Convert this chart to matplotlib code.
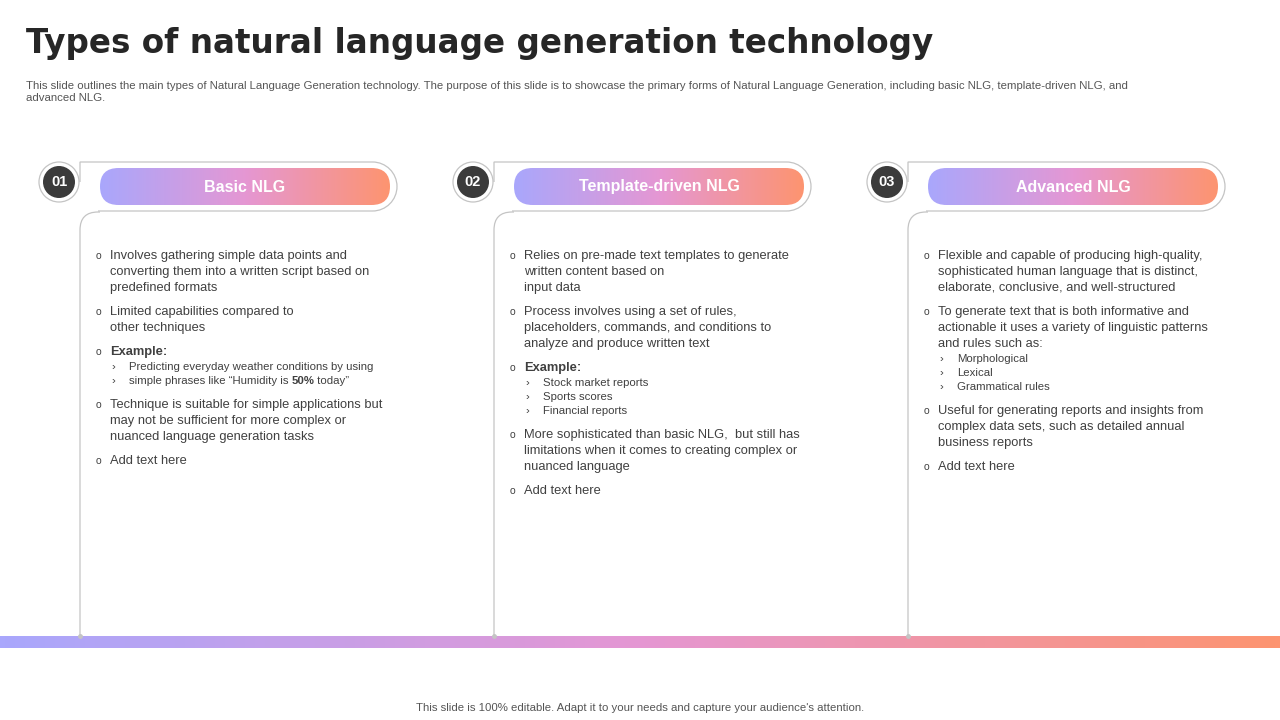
import matplotlib
matplotlib.use("Agg")
import matplotlib.pyplot as plt
import numpy as np
from matplotlib.patches import FancyBboxPatch, Circle, PathPatch
from matplotlib.path import Path
from matplotlib.colors import LinearSegmentedColormap

title = "Types of natural language generation technology"
subtitle = ("This slide outlines the main types of Natural Language Generation technology. The purpose of this slide is to showcase the primary forms of Natural Language Generation, including basic NLG, template-driven NLG, and\nadvanced NLG.")
footer = "This slide is 100% editable. Adapt it to your needs and capture your audience's attention."
numbers = ["01", "02", "03"]
headers = ["Basic NLG", "Template-driven NLG", "Advanced NLG"]
card1 = [("b", ["Involves gathering simple data points and", "converting them into a written script based on", "predefined formats"]),
         ("b", ["Limited capabilities compared to", "other techniques"]),
         ("bb", ["Example:"]),
         ("s", ["Predicting everyday weather conditions by using", "simple phrases like \u201cHumidity is |50%| today\u201d"]),
         ("b", ["Technique is suitable for simple applications but", "may not be sufficient for more complex or", "nuanced language generation tasks"]),
         ("b", ["Add text here"])]
card2 = [("b", ["Relies on pre-made text templates to generate", "written content based on", "input data"]),
         ("b", ["Process involves using a set of rules,", "placeholders, commands, and conditions to", "analyze and produce written text"]),
         ("bb", ["Example:"]),
         ("s", ["Stock market reports", "Sports scores", "Financial reports"]),
         ("b", ["More sophisticated than basic NLG,  but still has", "limitations when it comes to creating complex or", "nuanced language"]),
         ("b", ["Add text here"])]
card3 = [("b", ["Flexible and capable of producing high-quality,", "sophisticated human language that is distinct,", "elaborate, conclusive, and well-structured"]),
         ("b", ["To generate text that is both informative and", "actionable it uses a variety of linguistic patterns", "and rules such as:"]),
         ("s", ["Morphological", "Lexical", "Grammatical rules"]),
         ("b", ["Useful for generating reports and insights from", "complex data sets, such as detailed annual", "business reports"]),
         ("b", ["Add text here"])]
cards = [card1, card2, card3]

C1, C2, C3 = "#a9a7fc", "#e597d3", "#fd9470"
cmap = LinearSegmentedColormap.from_list("g", [C1, C2, C3])
TXT = "#404040"
FONT = "Liberation Sans"

fig = plt.figure(figsize=(12.8, 7.2), dpi=100)
ax = fig.add_axes([0, 0, 1, 1])
ax.set_xlim(0, 1280); ax.set_ylim(720, 0); ax.axis("off")
grad = np.linspace(0, 1, 256).reshape(1, -1)

ax.text(26, 44, title, fontsize=23.5, fontweight="bold", color="#262626", va="center", family="DejaVu Sans")
ax.text(26, 92, subtitle, fontsize=8.2, color="#555555", va="center", family=FONT, linespacing=1.3)

ax.imshow(grad, cmap=cmap, extent=(0, 1280, 648, 636), aspect="auto", zorder=1)
ax.text(640, 708, footer, fontsize=8.2, color="#555555", ha="center", va="center", family=FONT)

fig.canvas.draw()
rend = fig.canvas.get_renderer()
LC = "#c4c4c4"
for i in range(3):
    ox = 414 * i
    R = 24.5
    k = 0.5523 * R
    xr = 397 + ox - R
    hv = [(80 + ox, 182), (80 + ox, 162), (xr, 162),
          (xr + k, 162), (xr + R, 186.5 - k), (xr + R, 186.5),
          (xr + R, 186.5 + k), (xr + k, 211), (xr, 211),
          (98 + ox, 211)]
    hc = [Path.MOVETO, Path.LINETO, Path.LINETO,
          Path.CURVE4, Path.CURVE4, Path.CURVE4,
          Path.CURVE4, Path.CURVE4, Path.CURVE4, Path.LINETO]
    ax.add_patch(PathPatch(Path(hv, hc), fc="none", ec=LC, lw=0.9, zorder=3))
    r = 18
    bv = [(80 + ox, 636), (80 + ox, 212 + r), (80 + ox, 212), (80 + ox + r, 212), (100 + ox, 212)]
    bc = [Path.MOVETO, Path.LINETO, Path.CURVE3, Path.CURVE3, Path.LINETO]
    ax.add_patch(PathPatch(Path(bv, bc), fc="none", ec=LC, lw=0.9, zorder=3))
    ax.plot([80 + ox], [636], "o", ms=2.5, color=LC, zorder=3)
    ax.add_patch(Circle((59 + ox, 182), 20, fc="white", ec=LC, lw=0.9, zorder=3))
    ax.add_patch(Circle((59 + ox, 182), 16, fc="#3b3b3b", ec="none", zorder=4))
    ax.text(59 + ox, 182, numbers[i], color="white", fontsize=10.5, fontweight="bold",
            ha="center", va="center", family=FONT, zorder=5)
    pill = FancyBboxPatch((100 + ox, 168), 290, 37, boxstyle="round,pad=0,rounding_size=18.5",
                          fc="none", ec="none", zorder=3)
    ax.add_patch(pill)
    im = ax.imshow(grad, cmap=cmap, extent=(100 + ox, 390 + ox, 205, 168), aspect="auto", zorder=3)
    im.set_clip_path(pill)
    ax.text(245 + ox, 187, headers[i], color="white", fontsize=11.5, fontweight="bold",
            ha="center", va="center", family=FONT, zorder=5)
    y = 256
    for kind, lines in cards[i]:
        if kind == "s":
            y += 15 - 24
            for ln in lines:
                ax.text(112 + ox, y, "\u203a", fontsize=8.2, color=TXT, va="center", family=FONT)
                parts = ln.split("|")
                x = 129 + ox
                for kk, p in enumerate(parts):
                    t = ax.text(x, y, p, fontsize=8.2, color=TXT, va="center", family=FONT,
                                fontweight="bold" if kk % 2 else "normal")
                    x += t.get_window_extent(rend).width
                y += 14
            y += 24 - 14
        else:
            ax.text(96 + ox, y, "o", fontsize=7.5, color=TXT, va="center", family=FONT)
            for ln in lines:
                ax.text(110 + ox, y, ln, fontsize=9.3, color=TXT, va="center", family=FONT,
                        fontweight="bold" if kind == "bb" else "normal")
                y += 16
            y += 8

fig.savefig("out.png", dpi=100)
